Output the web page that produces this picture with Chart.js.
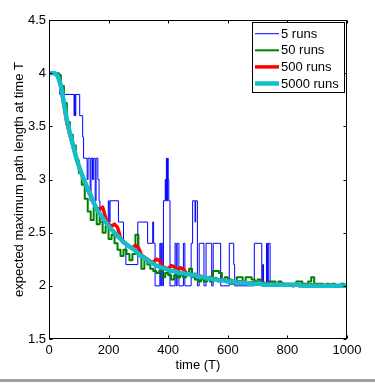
<!DOCTYPE html>
<html>
<head>
<meta charset="utf-8">
<script src="https://cdn.jsdelivr.net/npm/chart.js@4.4.1/dist/chart.umd.min.js"></script>
<style>
  html, body { margin: 0; padding: 0; background: #fff; }
  #wrap { width: 375px; height: 379px; border-bottom: 3px solid #a0a0a0; }
</style>
</head>
<body>
<div id="wrap"><canvas id="pathChart" width="375" height="379"></canvas></div>
<script>
// time grid used by the 50 / 500 / 5000 run averages
const timeSteps = [0, 10, 20, 30, 40, 50, 60, 70, 80, 90,
  100, 110, 120, 130, 140, 150, 160, 170, 180, 190,
  200, 210, 220, 230, 240, 250, 260, 270, 280, 290,
  300, 310, 320, 330, 340, 350, 360, 370, 380, 390,
  400, 410, 420, 430, 440, 450, 460, 470, 480, 490,
  500, 510, 520, 530, 540, 550, 560, 570, 580, 590,
  600, 610, 620, 630, 640, 650, 660, 670, 680, 690,
  700, 710, 720, 730, 740, 750, 760, 770, 780, 790,
  800, 810, 820, 830, 840, 850, 860, 870, 880, 890,
  900, 910, 920, 930, 940, 950, 960, 970, 980, 990, 1000];

const runs50 = [4.0, 4.0, 4.0, 3.98, 3.88, 3.72, 3.54, 3.42, 3.32, 3.18,
  3.06, 2.95, 2.82, 2.70, 2.62, 2.74, 2.58, 2.66, 2.50, 2.56,
  2.44, 2.48, 2.40, 2.34, 2.28, 2.34, 2.30, 2.24, 2.30, 2.48,
  2.28, 2.16, 2.24, 2.20, 2.16, 2.14, 2.12, 2.14, 2.08, 2.12,
  2.10, 2.06, 2.10, 2.08, 2.10, 2.08, 2.12, 2.16, 2.08, 2.06,
  2.04, 2.06, 2.04, 2.06, 2.04, 2.14, 2.14, 2.12, 2.06, 2.08,
  2.06, 2.02, 2.04, 2.08, 2.08, 2.04, 2.08, 2.08, 2.06, 2.04,
  2.06, 2.04, 2.02, 2.02, 2.04, 2.04, 2.02, 2.04, 2.02, 2.02,
  2.02, 2.02, 2.02, 2.04, 2.04, 2.02, 2.02, 2.04, 2.08, 2.02,
  2.02, 2.02, 2.00, 2.02, 2.00, 2.02, 2.00, 2.00, 2.02, 2.00, 2.00];

const runs500 = [4.0, 4.0, 4.0, 3.97, 3.87, 3.70, 3.53, 3.42, 3.32, 3.22,
  3.12, 3.05, 2.98, 2.90, 2.84, 2.78, 2.73, 2.72, 2.74, 2.64,
  2.58, 2.56, 2.58, 2.55, 2.45, 2.42, 2.39, 2.37, 2.36, 2.38,
  2.36, 2.29, 2.27, 2.25, 2.23, 2.22, 2.25, 2.24, 2.18, 2.17,
  2.16, 2.19, 2.18, 2.14, 2.17, 2.16, 2.12, 2.11, 2.10, 2.11,
  2.09, 2.09, 2.08, 2.07, 2.08, 2.06, 2.07, 2.05, 2.06, 2.05,
  2.04, 2.05, 2.04, 2.03, 2.04, 2.03, 2.03, 2.02, 2.03, 2.02,
  2.02, 2.03, 2.01, 2.02, 2.01, 2.02, 2.01, 2.01, 2.02, 2.01,
  2.01, 2.01, 2.00, 2.01, 2.00, 2.01, 2.00, 2.00, 2.01, 2.00,
  2.00, 2.01, 2.00, 2.00, 2.00, 2.01, 2.00, 2.00, 2.00, 2.00, 2.00];

const runs5000 = [4.0, 4.0, 4.0, 3.97, 3.88, 3.72, 3.56, 3.44, 3.33, 3.22,
  3.13, 3.05, 2.98, 2.91, 2.85, 2.78, 2.72, 2.68, 2.64, 2.60,
  2.56, 2.53, 2.50, 2.47, 2.44, 2.41, 2.39, 2.37, 2.35, 2.33,
  2.30, 2.28, 2.26, 2.24, 2.22, 2.21, 2.19, 2.18, 2.17, 2.16,
  2.15, 2.14, 2.14, 2.13, 2.12, 2.12, 2.11, 2.11, 2.10, 2.10,
  2.09, 2.08, 2.08, 2.07, 2.07, 2.06, 2.06, 2.05, 2.05, 2.05,
  2.04, 2.04, 2.04, 2.03, 2.03, 2.03, 2.03, 2.02, 2.02, 2.02,
  2.02, 2.02, 2.01, 2.01, 2.01, 2.01, 2.01, 2.01, 2.01, 2.01,
  2.01, 2.01, 2.01, 2.01, 2.01, 2.00, 2.00, 2.00, 2.00, 2.00,
  2.00, 2.00, 2.00, 2.00, 2.00, 2.00, 2.00, 2.00, 2.00, 2.00, 2.00];

// 5 runs: level changes (time where the level starts, level)
const runs5Times = [0, 36, 84, 86, 88, 90, 103, 113, 116, 128,
  131, 138, 141, 146, 150, 155, 158, 164, 168, 171,
  199, 202, 205, 233, 250, 258, 298, 331, 348, 351,
  356, 372, 375, 378, 382, 384, 390, 392, 394, 396,
  398, 400, 402, 406, 423, 427, 430, 436, 451, 456,
  477, 482, 490, 492, 498, 504, 520, 527, 546, 551,
  576, 605, 620, 623, 689, 714, 717, 720, 730, 733,
  736, 742, 1000];
const runs5Levels = [4.0, 3.8, 3.6, 3.8, 3.6, 3.8, 3.6, 3.4, 3.2, 3.0,
  3.2, 2.8, 3.2, 3.0, 3.2, 2.8, 3.2, 3.0, 2.8, 2.6,
  2.8, 2.6, 2.8, 2.6, 2.4, 2.2, 2.6, 2.4, 2.6, 2.4,
  2.0, 2.4, 2.0, 2.4, 2.0, 2.8, 3.0, 2.8, 3.2, 2.8,
  3.2, 3.0, 2.8, 2.0, 2.4, 2.0, 2.4, 2.0, 2.4, 2.0,
  2.4, 2.8, 2.6, 2.8, 2.0, 2.4, 2.0, 2.4, 2.0, 2.4,
  2.0, 2.4, 2.2, 2.0, 2.4, 2.0, 2.2, 2.0, 2.4, 2.0,
  2.4, 2.0, 2.0];

const xTickValues = [0, 200, 400, 600, 800, 1000];
const yTickValues = [1.5, 2, 2.5, 3, 3.5, 4, 4.5];

const seriesNames = ["5 runs", "50 runs", "500 runs", "5000 runs"];
const seriesColors = ["rgb(0,0,255)", "rgb(0,128,0)", "rgb(255,0,0)", "rgb(20,190,200)"];
const seriesWidths = [1, 2, 3.5, 4.5];

const FONT = "Liberation Sans, Arial, Helvetica, sans-serif";

function pairUp(xs, ys) {
  return xs.map((x, i) => ({ x: x, y: ys[i] }));
}

// box, inward ticks and legend drawn like the original figure
const framePlugin = {
  id: "frame",
  afterDatasetsDraw(chart) {
    const { ctx, chartArea: a, scales } = chart;
    const L = Math.round(a.left) + 0.5, R = Math.round(a.right) - 0.5;
    const T = Math.round(a.top) + 0.5, B = Math.round(a.bottom) - 0.5;
    ctx.save();
    ctx.strokeStyle = "#000";
    ctx.lineWidth = 1;
    ctx.strokeRect(L, T, R - L, B - T);
    ctx.beginPath();
    xTickValues.forEach((v) => {
      const x = Math.round(scales.x.getPixelForValue(v)) + 0.5;
      ctx.moveTo(x, B); ctx.lineTo(x, B - 3);
      ctx.moveTo(x, T); ctx.lineTo(x, T + 3);
    });
    yTickValues.forEach((v) => {
      const y = Math.round(scales.y.getPixelForValue(v)) + 0.5;
      ctx.moveTo(L, y); ctx.lineTo(L + 3, y);
      ctx.moveTo(R, y); ctx.lineTo(R - 3, y);
    });
    ctx.stroke();

    // legend
    const bx = 252.5, by = 22.5, bw = 92, bh = 70;
    ctx.fillStyle = "#fff";
    ctx.fillRect(bx, by, bw, bh);
    ctx.strokeRect(bx, by, bw, bh);
    ctx.font = "13px " + FONT;
    ctx.textBaseline = "middle";
    ctx.textAlign = "left";
    seriesNames.forEach((name, i) => {
      const y = 33.7 + i * 16.6;
      ctx.beginPath();
      ctx.strokeStyle = seriesColors[i];
      ctx.lineWidth = seriesWidths[i];
      ctx.moveTo(255, y);
      ctx.lineTo(279, y);
      ctx.stroke();
      ctx.fillStyle = "#000";
      ctx.fillText(name, 281, y + 0.5);
    });
    ctx.restore();
  }
};

new Chart(document.getElementById("pathChart"), {
  type: "line",
  data: {
    datasets: [
      {
        label: seriesNames[0],
        data: pairUp(runs5Times, runs5Levels),
        borderColor: seriesColors[0],
        borderWidth: seriesWidths[0],
        stepped: true,
        order: 3,
      },
      {
        label: seriesNames[1],
        data: pairUp(timeSteps, runs50),
        borderColor: seriesColors[1],
        borderWidth: seriesWidths[1],
        stepped: true,
        order: 2,
      },
      {
        label: seriesNames[2],
        data: pairUp(timeSteps, runs500),
        borderColor: seriesColors[2],
        borderWidth: seriesWidths[2],
        order: 1,
      },
      {
        label: seriesNames[3],
        data: pairUp(timeSteps, runs5000),
        borderColor: seriesColors[3],
        borderWidth: seriesWidths[3],
        order: 0,
      },
    ],
  },
  options: {
    responsive: false,
    animation: false,
    events: [],
    elements: {
      point: { radius: 0 },
      line: { tension: 0, fill: false, borderJoinStyle: "round", borderCapStyle: "round" },
    },
    layout: { padding: { top: 20, right: 28, left: 0, bottom: 0 } },
    plugins: { legend: { display: false }, tooltip: { enabled: false } },
    scales: {
      x: {
        type: "linear",
        min: 0,
        max: 1000,
        grid: { display: false, drawTicks: false },
        border: { display: false },
        afterBuildTicks: (s) => { s.ticks = xTickValues.map((v) => ({ value: v })); },
        afterFit: (s) => { s.height = 40; },
        ticks: {
          color: "#000",
          padding: 4,
          maxRotation: 0,
          font: { family: FONT, size: 13 },
          callback: (v) => String(v),
        },
        title: {
          display: true,
          text: "time (T)",
          color: "#000",
          font: { family: FONT, size: 13 },
          padding: { top: 0, bottom: 6 },
        },
      },
      y: {
        type: "linear",
        min: 1.5,
        max: 4.5,
        grid: { display: false, drawTicks: false },
        border: { display: false },
        afterBuildTicks: (s) => { s.ticks = yTickValues.map((v) => ({ value: v })); },
        afterFit: (s) => { s.width = 49; },
        ticks: {
          color: "#000",
          padding: 3,
          font: { family: FONT, size: 13 },
          callback: (v) => String(v),
        },
        title: {
          display: true,
          text: "expected maximum path length at time T",
          color: "#000",
          font: { family: FONT, size: 13 },
          padding: { top: 12, bottom: 0 },
        },
      },
    },
  },
  plugins: [framePlugin],
});
</script>
</body>
</html>
